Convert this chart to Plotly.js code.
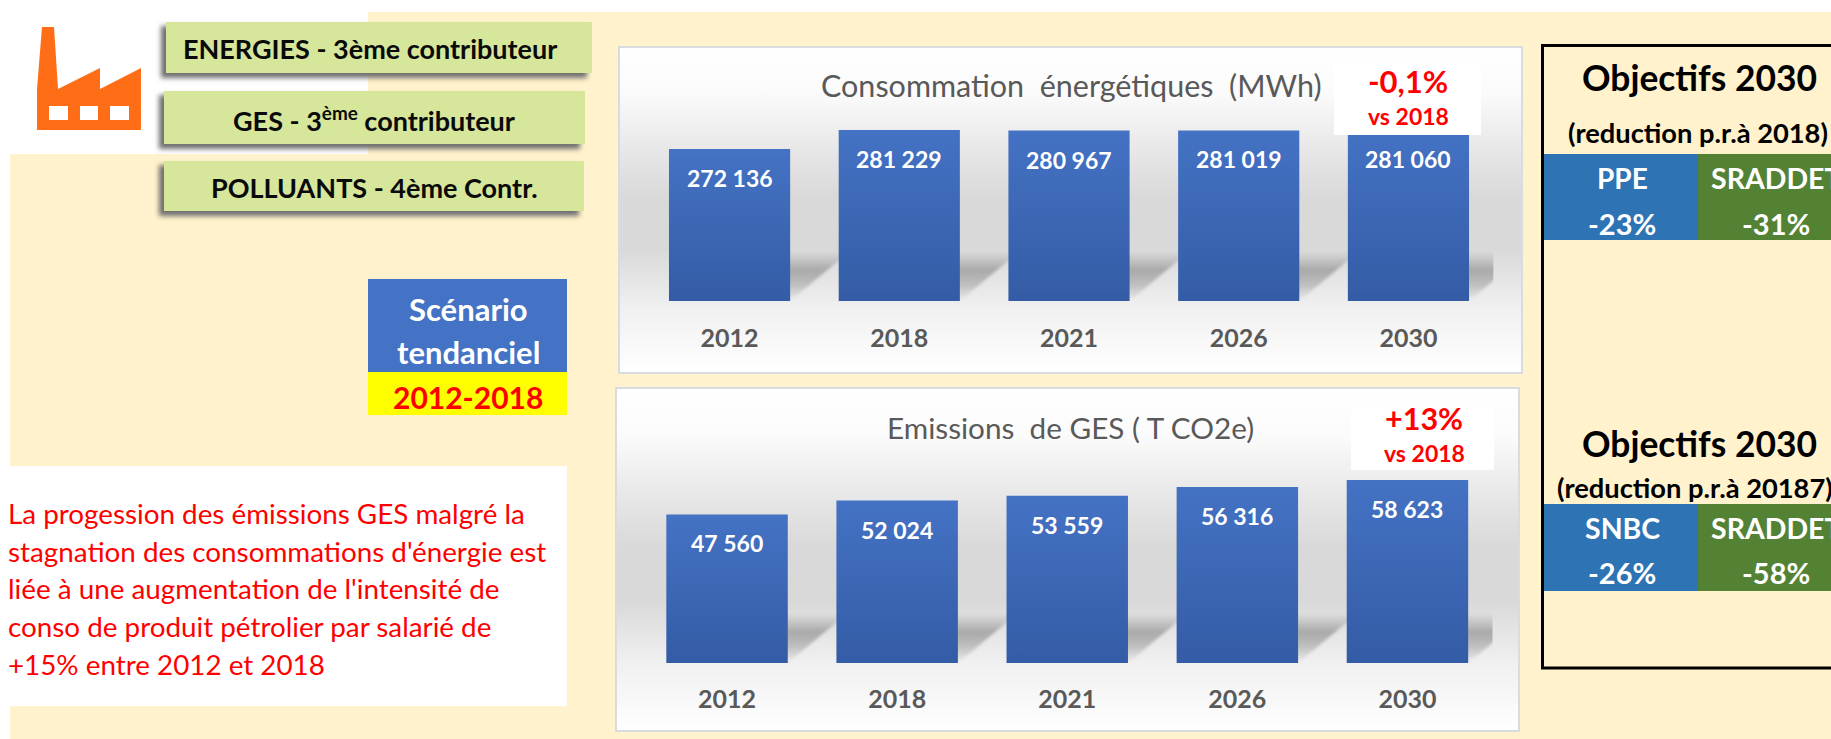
<!DOCTYPE html>
<html lang="fr">
<head>
<meta charset="utf-8">
<script src="https://cdn.plot.ly/plotly-3.0.1.min.js"></script>
<style>html,body{margin:0;padding:0;background:#fff;overflow:hidden}#chart{width:1831px;height:739px}svg text{font-variant-ligatures:none}</style>
</head>
<body>
<div id="chart"></div>
<script>
const years = ['2012', '2018', '2021', '2026', '2030'];
const energyMWh = [272136, 281229, 280967, 281019, 281060];
const gesTCO2e = [47560, 52024, 53559, 56316, 58623];
const energyTitle = 'Consommation\u00a0\u00a0énergétiques\u00a0\u00a0(MWh)';
const gesTitle = 'Emissions\u00a0\u00a0de GES ( T CO2e)';
const noteLines = [
  'La progession des émissions GES malgré la',
  "stagnation des consommations d'énergie est",
  "liée à une augmentation de l'intensité de",
  'conso de produit pétrolier par salarié de',
  '+15% entre 2012 et 2018'
];

const W = 1831, H = 739;
const px = x => x / W, py = y => 1 - y / H;
const FONT = 'Lato, "Open Sans", sans-serif';
const CREAM = '#fff2cc';

const shapes = [];
function rect(x0, y0, x1, y1, fill, extra) {
  shapes.push(Object.assign({
    type: 'rect', xref: 'paper', yref: 'paper', layer: 'below',
    x0: px(x0), x1: px(x1), y0: py(y0), y1: py(y1),
    fillcolor: fill, line: {width: 0}
  }, extra || {}));
  return shapes.length - 1;
}
function poly(pts, fill) {
  const d = pts.map((p, i) => (i ? 'L' : 'M') + px(p[0]) + ',' + py(p[1])).join(' ') + ' Z';
  shapes.push({type: 'path', xref: 'paper', yref: 'paper', layer: 'below', path: d, fillcolor: fill, line: {width: 0}});
}
const annotations = [];
function txt(x, y, text, size, color, opts) {
  annotations.push(Object.assign({
    xref: 'paper', yref: 'paper', x: px(x), y: py(y), text: text, showarrow: false,
    xanchor: 'center', yanchor: 'middle', borderpad: 0,
    font: {family: FONT, size: size, color: color}
  }, opts || {}));
}
const b = s => '<b>' + s + '</b>';

// page background
poly([[368, 12], [W, 12], [W, H], [10, H], [10, 154], [368, 154]], CREAM);

// factory icon
poly([[42, 27], [54, 27], [58, 89], [100, 68], [100, 89], [141, 68], [141, 130], [37, 130], [37, 89]], '#ff6d16');
[[49, 68], [80, 98], [110, 129]].forEach(w => rect(w[0], 106, w[1], 120, '#ffffff'));

// green contributor boxes with shadows
const blurred = [];
[[166, 22, 592, 73], [164, 91, 585, 144], [164, 161, 584, 211]].forEach(r => {
  blurred.push(rect(r[0] - 5, r[1] + 4, r[2] - 5, r[3] + 5, '#6f6f6f'));
  rect(r[0], r[1], r[2], r[3], '#d6e69a');
});
txt(370, 48, b('ENERGIES - 3ème contributeur'), 27, '#0a0a0a');
txt(374, 119, b('GES - 3<sup>ème</sup> contributeur'), 27, '#0a0a0a');
txt(374, 187, b('POLLUANTS - 4ème Contr.'), 27, '#0a0a0a');

// scenario box
rect(368, 279, 567, 372, '#4472c4');
rect(368, 372, 567, 415, '#ffff00');
txt(468, 309, b('Scénario'), 31, '#ffffff');
txt(468, 352, b('tendanciel'), 31, '#ffffff');
txt(468, 397, b('2012-2018'), 30, '#ff0000');

// note
rect(10, 466, 567, 706, '#ffffff');
[513, 551, 588, 626, 664].forEach((y, i) => txt(7, y, noteLines[i], 27.8, '#ff0000', {xanchor: 'left'}));

// chart panels
const panels = [
  rect(619, 47, 1522, 373, '#e8e8e8', {line: {width: 2, color: '#d9dcdf'}}),
  rect(616, 388, 1519, 731, '#e8e8e8', {line: {width: 2, color: '#d9dcdf'}})
];

// white callouts over the charts
rect(1334, 64, 1481, 135, '#ffffff', {layer: 'above'});
rect(1351, 407, 1494, 470, '#ffffff', {layer: 'above'});
txt(1408, 81, b('-0,1%'), 31, '#ff0000');
txt(1408, 116, b('vs 2018'), 23, '#ff0000');
txt(1424, 418, b('+13%'), 30.5, '#ff0000');
txt(1424, 453, b('vs 2018'), 23, '#ff0000');

txt(1071, 85, energyTitle, 30.5, '#595959');
txt(1070, 427, gesTitle, 29.7, '#595959');

// objectives block
rect(1542.5, 45.5, 1860, 668, 'rgba(0,0,0,0)', {line: {width: 3, color: '#000000'}});
rect(1544, 154, 1698, 240, '#2e74b5');
rect(1698, 154, 1860, 240, '#548235');
rect(1544, 504, 1698, 591, '#2e74b5');
rect(1698, 504, 1860, 591, '#548235');
txt(1699, 78, b('Objectifs 2030'), 35.4, '#000000');
txt(1698, 132, b('(reduction p.r.à 2018)'), 27.3, '#000000');
txt(1622, 178, b('PPE'), 28, '#ffffff');
txt(1622, 223, b('-23%'), 29, '#ffffff');
txt(1776, 178, b('SRADDET'), 28.5, '#ffffff');
txt(1776, 223, b('-31%'), 29, '#ffffff');
txt(1699, 443, b('Objectifs 2030'), 35.4, '#000000');
txt(1695, 487, b('(reduction p.r.à 20187)'), 27.3, '#000000');
txt(1622, 528, b('SNBC'), 28.5, '#ffffff');
txt(1622, 572, b('-26%'), 29, '#ffffff');
txt(1776, 528, b('SRADDET'), 28.5, '#ffffff');
txt(1776, 572, b('-58%'), 29, '#ffffff');

// value labels, placed through the chart scales (x = category index)
const fmt = v => String(v).replace(/\B(?=(\d{3})+$)/g, '\u00a0');
function valueLabels(values, xa, ya) {
  values.forEach((v, i) => annotations.push({
    xref: xa, yref: ya, x: i, y: v, yshift: -29, text: b(fmt(v)), showarrow: false,
    xanchor: 'center', yanchor: 'middle', font: {family: FONT, size: 23, color: '#ffffff'}
  }));
}
valueLabels(energyMWh, 'x', 'y');
valueLabels(gesTCO2e, 'x2', 'y2');

const bar = (y, xa, ya, name) => ({
  type: 'bar', x: years, y: y, xaxis: xa, yaxis: ya, name: name,
  marker: {color: '#4472c4', line: {width: 0}}, hoverinfo: 'x+y', showlegend: false
});
const xAxisBase = {
  type: 'category', categoryorder: 'array', categoryarray: years, range: [-0.5, 4.5],
  showgrid: false, zeroline: false, showline: false, tickmode: 'array', tickvals: years, ticktext: years,
  ticks: 'outside', tickcolor: 'rgba(0,0,0,0)', tickfont: {family: FONT, size: 25, color: '#595959', weight: 700}
};
const yAxisBase = {visible: false, showgrid: false, zeroline: false, fixedrange: true};

const layout = {
  width: W, height: H, margin: {l: 0, r: 0, t: 0, b: 0},
  paper_bgcolor: '#ffffff', plot_bgcolor: 'rgba(0,0,0,0)',
  bargap: 0.286, showlegend: false, shapes: shapes, annotations: annotations,
  xaxis: Object.assign({}, xAxisBase, {domain: [px(644.7), px(1493.3)], anchor: 'y', ticklen: 15}),
  yaxis: Object.assign({}, yAxisBase, {domain: [py(301), py(111.5)], anchor: 'x', range: [200000, 290000]}),
  xaxis2: Object.assign({}, xAxisBase, {domain: [px(642), px(1492.5)], anchor: 'y2', ticklen: 14}),
  yaxis2: Object.assign({}, yAxisBase, {domain: [py(663), py(460)], anchor: 'x2', range: [0, 65000]})
};

const NS = 'http://www.w3.org/2000/svg';
const stopsHtml = stops => stops.map(s => '<stop offset="' + s[0] + '" stop-color="' + s[1] + '"' + (s[2] !== undefined ? ' stop-opacity="' + s[2] + '"' : '') + '/>').join('');
function decorate(gd) {
  const svg = gd.querySelector('svg.main-svg');
  let defs = svg.querySelector('defs#extraDefs');
  if (!defs) {
    defs = document.createElementNS(NS, 'defs');
    defs.setAttribute('id', 'extraDefs');
    svg.insertBefore(defs, svg.firstChild);
  }
  const grad = (id, stops) => '<linearGradient id="' + id + '" x1="0" y1="0" x2="0" y2="1">' + stopsHtml(stops) + '</linearGradient>';
  let html =
    grad('panelGrad', [[0, '#ffffff'], [0.14, '#fbfbfb'], [0.3, '#e9e9e9'], [0.46, '#d9d9d9'], [0.62, '#d9d9d9'], [0.8, '#f0f0f0'], [1, '#ffffff']]) +
    grad('shadowGrad', [[0, '#a6a6a6', 0], [0.38, '#a6a6a6', 0.95], [0.68, '#a6a6a6', 0.6], [1, '#a6a6a6', 0]]) +
    '<filter id="soft" x="-20%" y="-30%" width="140%" height="160%"><feGaussianBlur stdDeviation="2.5"/></filter>' +
    '<filter id="softer" x="-20%" y="-20%" width="140%" height="140%"><feGaussianBlur stdDeviation="1.5"/></filter>';
  panels.forEach(i => { gd.querySelector('.layer-below .shapelayer path[data-index="' + i + '"]').style.fill = 'url(#panelGrad)'; });
  blurred.forEach(i => { gd.querySelector('.layer-below .shapelayer path[data-index="' + i + '"]').style.filter = 'url(#soft)'; });
  const yAxes = [gd._fullLayout.yaxis, gd._fullLayout.yaxis2];
  gd.querySelectorAll('.barlayer').forEach((layer, k) => {
    const old = layer.querySelector('g.bar-shadows');
    if (old) old.remove();
    const g = document.createElementNS(NS, 'g');
    g.setAttribute('class', 'bar-shadows');
    const floor = yAxes[k]._length; // bars on a truncated axis run past the plot floor
    layer.querySelectorAll('.point path').forEach((p, n) => {
      const r = p.getBBox();
      const base = Math.min(r.y + r.height, floor);
      const id = 'barGrad' + k + '_' + n;
      html += '<linearGradient id="' + id + '" gradientUnits="userSpaceOnUse" x1="0" y1="' + r.y + '" x2="0" y2="' + base + '">' +
        stopsHtml([[0, '#4472c4'], [1, '#345ca6']]) + '</linearGradient>';
      p.style.fill = 'url(#' + id + ')';
      const s = document.createElementNS(NS, 'polygon');
      const h = 50, sk = 60;
      s.setAttribute('points', [[r.x, base], [r.x + r.width, base], [r.x + r.width + sk, base - h], [r.x + sk, base - h]].map(a => a.join(',')).join(' '));
      s.setAttribute('fill', 'url(#shadowGrad)');
      s.setAttribute('filter', 'url(#softer)');
      g.appendChild(s);
    });
    layer.insertBefore(g, layer.firstChild);
  });
  defs.innerHTML = html;
}

Plotly.newPlot('chart', [bar(energyMWh, 'x', 'y', 'Consommation'), bar(gesTCO2e, 'x2', 'y2', 'GES')], layout,
  {displayModeBar: false, staticPlot: true}).then(decorate);
</script>
</body>
</html>
